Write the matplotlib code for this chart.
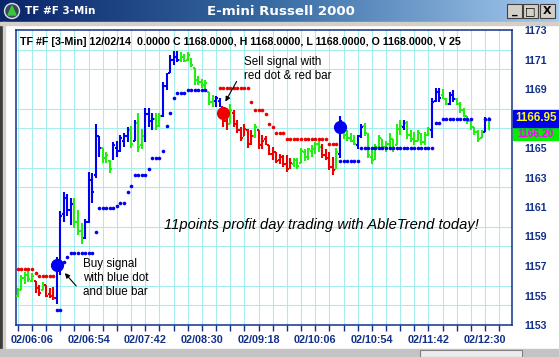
import matplotlib
matplotlib.use("Agg")
import matplotlib.pyplot as plt
from matplotlib.colors import LinearSegmentedColormap
from matplotlib.patches import Rectangle, Circle, Polygon
import numpy as np
import pandas as pd

plt.rcParams['font.family'] = ['Liberation Sans', 'DejaVu Sans']

# 3-minute bars of TF #F on 12/02/14, first bar 05:54
bar_open = [
    1155.0, 1155.4, 1156.2, 1156.4, 1156.0, 1156.0, 1155.5, 1155.4, 1155.7, 1155.1, 1155.0,
    1154.8, 1157.2, 1160.5, 1161.5, 1160.8, 1161.2, 1160.0, 1159.4, 1158.9, 1160.0,
    1162.8, 1163.2, 1165.8, 1165.0, 1164.3, 1164.1, 1164.3, 1165.0, 1164.8, 1165.5,
    1165.8, 1166.2, 1165.5, 1166.7, 1165.2, 1165.8, 1167.3, 1166.7, 1167.0, 1166.5,
    1167.2, 1169.2, 1170.1, 1171.0, 1171.2, 1171.0, 1171.2, 1171.0, 1171.0, 1170.4,
    1169.6, 1169.5, 1169.3, 1168.8, 1168.1, 1168.2, 1168.2, 1167.8, 1166.8,
    1166.6, 1167.4, 1166.6, 1166.2, 1165.8, 1166.2, 1165.3, 1165.8, 1166.2, 1165.2,
    1165.6, 1165.2, 1164.6, 1164.7, 1164.2, 1164.4, 1163.9, 1163.7, 1163.9, 1164.0,
    1164.0, 1164.7, 1164.4, 1164.8, 1164.9, 1165.3, 1165.2, 1164.5, 1164.4, 1163.7,
    1163.6, 1164.6, 1166.4, 1165.9, 1165.7, 1165.5, 1165.2, 1165.8, 1166.5, 1165.9,
    1164.4, 1164.3, 1165.0, 1165.6, 1165.1, 1165.3, 1165.6, 1165.2, 1166.3, 1166.4,
    1166.7, 1165.9, 1165.6, 1165.5, 1165.8, 1165.4, 1165.9, 1166.2, 1168.2, 1168.8,
    1168.6, 1168.3, 1168.0, 1168.6, 1168.3, 1168.0, 1167.6, 1167.2, 1166.8, 1166.4,
    1166.1, 1165.7, 1166.1, 1166.9,
]
bar_high = [
    1155.5, 1156.4, 1156.6, 1156.7, 1156.5, 1156.0, 1155.7, 1155.9, 1155.7, 1155.5, 1155.6,
    1157.6, 1160.7, 1162.0, 1161.9, 1161.6, 1161.6, 1160.8, 1159.9, 1160.2, 1163.4,
    1163.3, 1166.6, 1165.8, 1165.0, 1164.7, 1164.2, 1165.4, 1165.5, 1165.9, 1166.0,
    1166.4, 1166.5, 1166.9, 1167.4, 1166.3, 1167.7, 1167.7, 1167.4, 1167.4, 1167.4,
    1169.5, 1170.1, 1171.3, 1171.6, 1171.6, 1171.5, 1171.4, 1171.5, 1171.1, 1170.4,
    1169.9, 1169.7, 1169.6, 1168.8, 1168.6, 1168.5, 1168.4, 1167.8, 1167.4,
    1168.0, 1167.6, 1166.9, 1166.4, 1166.6, 1166.3, 1166.2, 1166.6, 1166.2, 1165.9,
    1165.8, 1165.2, 1165.1, 1164.7, 1164.6, 1164.5, 1164.5, 1164.3, 1164.3, 1164.3,
    1165.0, 1164.9, 1165.0, 1165.2, 1165.4, 1165.5, 1165.3, 1164.9, 1164.7, 1164.4,
    1165.0, 1167.2, 1166.5, 1166.2, 1166.0, 1165.9, 1165.9, 1166.6, 1166.7, 1166.0,
    1164.9, 1165.3, 1165.9, 1165.6, 1165.5, 1166.0, 1165.6, 1166.6, 1166.9, 1166.9,
    1166.8, 1166.2, 1166.1, 1166.2, 1166.0, 1166.1, 1166.4, 1168.4, 1169.1, 1169.1,
    1169.0, 1168.4, 1168.8, 1168.9, 1168.4, 1168.1, 1167.7, 1167.2, 1166.8, 1166.4,
    1166.2, 1166.2, 1167.1, 1167.1,
]
bar_low = [
    1154.9, 1155.4, 1155.8, 1155.9, 1155.9, 1155.2, 1155.0, 1155.4, 1154.9, 1154.8, 1154.7,
    1154.4, 1156.4, 1160.0, 1160.4, 1159.8, 1159.6, 1159.1, 1158.5, 1158.8, 1159.9,
    1161.3, 1163.0, 1164.4, 1164.0, 1164.0, 1163.3, 1164.2, 1164.4, 1164.7, 1165.1,
    1165.4, 1165.0, 1165.5, 1164.7, 1164.9, 1165.4, 1166.4, 1166.2, 1166.2, 1166.4,
    1167.1, 1168.9, 1170.1, 1170.6, 1170.8, 1170.8, 1170.8, 1170.9, 1170.5, 1169.3,
    1169.3, 1169.1, 1168.9, 1167.9, 1167.8, 1167.8, 1167.8, 1166.4, 1166.2,
    1166.6, 1166.4, 1166.0, 1165.5, 1165.8, 1165.0, 1165.2, 1165.7, 1164.9, 1164.9,
    1165.2, 1164.5, 1164.2, 1164.0, 1163.9, 1163.7, 1163.4, 1163.6, 1163.7, 1163.6,
    1164.0, 1164.1, 1164.2, 1164.4, 1164.6, 1164.7, 1164.3, 1164.2, 1163.5, 1163.2,
    1163.6, 1164.3, 1165.6, 1165.5, 1165.4, 1165.2, 1164.9, 1165.7, 1165.8, 1164.3,
    1163.9, 1164.2, 1164.9, 1164.9, 1164.7, 1165.0, 1164.7, 1165.2, 1165.9, 1166.2,
    1165.6, 1165.4, 1165.2, 1165.5, 1165.2, 1165.2, 1165.8, 1165.7, 1168.1, 1168.1,
    1168.3, 1167.9, 1167.9, 1168.1, 1167.9, 1167.4, 1167.1, 1166.6, 1166.2, 1165.9,
    1165.4, 1165.7, 1166.1, 1166.2,
]
bar_close = [
    1155.4, 1156.2, 1156.4, 1156.1, 1156.3, 1155.4, 1155.2, 1155.8, 1155.0, 1154.9, 1154.8,
    1157.2, 1160.4, 1161.6, 1160.8, 1161.2, 1160.0, 1159.4, 1158.8, 1160.0, 1162.8,
    1162.0, 1166.0, 1165.0, 1164.3, 1164.5, 1163.6, 1165.2, 1164.8, 1165.7, 1165.8,
    1166.2, 1165.3, 1166.7, 1165.1, 1165.8, 1167.3, 1166.8, 1167.0, 1166.5, 1167.2,
    1169.2, 1169.8, 1171.0, 1171.2, 1171.0, 1171.3, 1170.9, 1171.3, 1170.6, 1169.6,
    1169.5, 1169.3, 1169.4, 1168.1, 1168.3, 1168.4, 1168.0, 1166.8, 1166.5,
    1167.6, 1166.6, 1166.2, 1165.7, 1166.3, 1165.3, 1165.8, 1166.4, 1165.1, 1165.5,
    1165.3, 1164.6, 1164.8, 1164.1, 1164.4, 1163.9, 1163.6, 1164.0, 1164.2, 1163.8,
    1164.8, 1164.3, 1164.9, 1165.0, 1165.3, 1165.1, 1164.5, 1164.3, 1163.7, 1163.5,
    1164.7, 1166.8, 1165.9, 1165.7, 1165.5, 1165.3, 1165.8, 1166.4, 1166.0, 1164.5,
    1164.2, 1165.1, 1165.7, 1165.1, 1165.3, 1165.8, 1165.0, 1166.3, 1166.5, 1166.8,
    1165.9, 1165.6, 1165.5, 1166.0, 1165.4, 1165.9, 1166.3, 1168.1, 1168.9, 1168.4,
    1168.5, 1168.0, 1168.6, 1168.3, 1168.0, 1167.6, 1167.2, 1166.8, 1166.4, 1166.1,
    1165.6, 1166.1, 1166.9, 1166.2,
]
# B = up trend (blue), G = neutral (green), R = down trend (red)
bar_color = ("GGGGGRRGRRR" "BBBBB" "GGG" "BBBBB" "GGG" "BBBBB" "GBGGBBBGG"
             "BBBBB" "GGGGGGGGGG" "BBRR" "G" "RRRRRR" "G" "RRRRRRRRRR"
             "GGGGGGGG" "RRRR" "G" "B" "GGGG" "BB" "GGGGGGGGGGG" "B"
             "GGGGGGG" "BBB" "GG" "BB" "GGGGGGGG" "B" "G")

nan = float('nan')
stop_level = [
    1156.8, 1156.8, 1156.8, 1156.8, 1156.8, 1156.5, 1156.3, 1156.3, 1156.3, 1156.3, 1156.3,
    1154.0, 1154.0, 1157.3, 1157.6, 1157.9, 1157.9, 1157.9, 1157.9, 1157.9, 1157.9,
    1157.9, 1159.3, 1160.9, 1160.9, 1160.9, 1160.9, 1160.9, 1161.1, 1161.3, 1161.3,
    1162.0, 1162.4, 1163.2, 1163.2, 1163.2, 1163.2, 1163.6, 1164.3, 1164.3, 1164.3,
    1164.8, 1166.5, 1167.4, 1168.4, 1168.7, 1168.7, 1168.7, 1168.9, 1168.9, 1168.9,
    1168.9, 1168.9, 1168.9, nan, nan, nan, 1169.1, 1169.1, 1169.1,
    1169.1, 1169.1, 1169.1, 1169.1, 1169.1, 1169.1, 1168.1, 1167.6, 1167.6, 1167.6,
    1167.3, 1166.6, 1166.4, 1166.0, 1166.0, 1166.0, 1165.6, 1165.6, 1165.6, 1165.6,
    1165.6, 1165.6, 1165.6, 1165.6, 1165.6, 1165.6, 1165.6, 1165.6, 1165.3, 1165.3,
    1165.3, 1164.1, 1164.1, 1164.1, 1164.1, 1164.1, 1164.1, 1165.0, 1165.0, 1165.0,
    1165.0, 1165.0, 1165.0, 1165.0, 1165.0, 1165.0, 1165.0, 1165.0, 1165.0, 1165.0,
    1165.0, 1165.0, 1165.0, 1165.0, 1165.0, 1165.0, 1165.0, 1165.0, 1166.7, 1166.7,
    1167.0, 1167.0, 1167.0, 1167.0, 1167.0, 1167.0, 1167.0, 1167.0, 1167.0, nan,
    nan, nan, 1166.95, 1166.95,
]
stop_color = "R" * 11 + "B" * 43 + "-" * 3 + "R" * 34 + "B" * 38 + "-" * 3 + "B" * 2

# entry signals: bar index, dot price, side
signal_bar = [11, 58, 91]
signal_price = [1157.1, 1167.4, 1166.4]
signal_side = ["B", "R", "B"]

last_stop = 1166.95
last_close = 1166.20

times = pd.date_range("2014-12-02 05:54", periods=len(bar_open), freq="3min")

COL = {'B': '#0000f2', 'G': '#22ee11', 'R': '#ee0000'}
NAVY = '#12308a'
W, H = 559, 357

fig = plt.figure(figsize=(W / 100, H / 100), dpi=100)
fig.patch.set_facecolor('white')

# main chart, frame from px (16,30) to (512,325)
ax = fig.add_axes([16 / W, (H - 325) / H, 496 / W, 295 / H])
n = len(bar_open)
x = np.arange(n)
cols = [COL[c] for c in bar_color]
ax.vlines(x, bar_low, bar_high, colors=cols, lw=1.5, zorder=3)
ax.hlines(bar_open, x - 0.5, x, colors=cols, lw=1.5, zorder=3)
ax.hlines(bar_close, x, x + 0.5, colors=cols, lw=1.5, zorder=3)

lvl = np.array(stop_level)
for c in "BR":
    m = np.array([s == c for s in stop_color])
    ax.plot(x[m], lvl[m], 'o', ms=2.6, color=COL[c], mec='none', zorder=4)
for b, p, s in zip(signal_bar, signal_price, signal_side):
    ax.plot(b, p, 'o', ms=9.5, color=COL[s], mec='none', zorder=5)

ax.set_xlim((16 - 17.84) / 3.54, (512 - 17.84) / 3.54)
ax.set_ylim(1153, 1173)

ticks = np.arange(0, 137, 4)
ax.set_xticks(ticks)
ax.set_xticklabels([times[k].strftime('%d/%H:%M') if k < n and (k - 4) % 16 == 0 else ''
                    for k in ticks])
ax.tick_params(axis='x', length=4, width=1, color=NAVY, pad=3,
               labelsize=7.8, labelcolor=NAVY)
for t in ax.get_xticklabels():
    t.set_fontweight('bold')

# the price label hidden behind the last-stop box is left blank
yt = np.arange(1153, 1174, 2)
ax.yaxis.tick_right()
ax.set_yticks(yt)
ax.set_yticklabels(['' if abs(v - last_stop) < 1 else str(v) for v in yt])
ax.set_yticks(1153 + np.arange(16) * 4 / 3, minor=True)
ax.tick_params(axis='y', which='both', length=0, pad=9, labelsize=7.6, labelcolor=NAVY)
for t in ax.get_yticklabels():
    t.set_fontweight('bold')

ax.grid(axis='x', which='major', color='#a6eeee', lw=0.8, zorder=0)
ax.grid(axis='y', which='minor', color='#a6eeee', lw=0.8, zorder=0)
ax.set_axisbelow(True)
for sp in ax.spines.values():
    sp.set_color(NAVY)
    sp.set_linewidth(1.1)

ax.text(4 / 496, 1 - 12 / 295, "TF #F [3-Min] 12/02/14  0.0000 C 1168.0000, H 1168.0000, "
        "L 1168.0000, O 1168.0000, V 25", transform=ax.transAxes, fontsize=7.7,
        fontweight='bold', va='center', ha='left', color='black')

# window decorations and notes in pixel coordinates
ov = fig.add_axes([0, 0, 1, 1], zorder=5)
ov.patch.set_alpha(0)
grad = np.linspace(0, 1, 256)[None, :]
cmap = LinearSegmentedColormap.from_list('tb', ['#0a246a', '#3a6ea5', '#a6caf0'])
ov.imshow(grad, extent=(0, W, 22, 0), aspect='auto', cmap=cmap)
ov.set_xlim(0, W)
ov.set_ylim(H, 0)
ov.axis('off')

ov.add_patch(Rectangle((0, 22), 3, H - 22, color='#3c3c3c'))
ov.add_patch(Rectangle((3, 22), 2, H - 22, color='#d4d0c8'))
ov.add_patch(Rectangle((0, 22), W, 3, color='#d4d0c8'))
ov.add_patch(Rectangle((0, 349), W, 8, color='#c4c4c4'))
ov.add_patch(Rectangle((420, 350), 102, 7, facecolor='#ececec', edgecolor='#808080', lw=0.8))

ov.add_patch(Circle((12, 11), 7.5, color='#d8d8d8'))
ov.add_patch(Circle((12, 11), 6, color='#34465e'))
ov.add_patch(Polygon([[8, 15], [16, 15], [12, 6]], color='#3dc43d'))
ov.text(25, 11.5, "TF #F 3-Min", color='white', fontsize=7.5, fontweight='bold',
        family='DejaVu Sans', va='center', ha='left')
ov.text(281, 11.5, "E-mini Russell 2000", color='white', fontsize=9.6, fontweight='bold',
        family='DejaVu Sans', va='center', ha='center')
for bx, glyph in zip([507, 523, 540], ["_", "\u25a1", "X"]):
    ov.add_patch(Rectangle((bx, 4), 15, 14, facecolor='#d4d0c8', edgecolor='#404040', lw=0.8))
    ov.text(bx + 7.5, 11.5, glyph, fontsize=8, fontweight='bold', ha='center', va='center',
            family='DejaVu Sans')

# last close and stop boxes on the price scale
ov.add_patch(Rectangle((513, 127), 46, 13, color='#00ee00'))
ov.text(536, 134, f"{last_close:.2f}", color='#ff00ff', fontsize=7.4, fontweight='bold',
        ha='center', va='center')
ov.add_patch(Rectangle((513, 110), 46, 17, color='#0000ee'))
ov.text(536, 118, f"{last_stop:.2f}", color='#ffff00', fontsize=8.3, fontweight='bold',
        ha='center', va='center')

ov.text(244, 56, "Sell signal with\nred dot & red bar", fontsize=8.4, va='top', ha='left',
        linespacing=1.2)
ov.annotate('', xy=(224, 104), xytext=(238, 79),
            arrowprops=dict(arrowstyle='-|>', color='black', lw=0.8, mutation_scale=7))
ov.text(83, 258, "Buy signal\nwith blue dot\nand blue bar", fontsize=8.4, va='top', ha='left',
        linespacing=1.2)
ov.annotate('', xy=(63, 271), xytext=(78, 288),
            arrowprops=dict(arrowstyle='-|>', color='black', lw=0.8, mutation_scale=7))
ov.text(164, 225, "11points profit day trading with AbleTrend today!", fontsize=10.6,
        style='italic', va='center', ha='left')

fig.savefig("out.png", dpi=100)
